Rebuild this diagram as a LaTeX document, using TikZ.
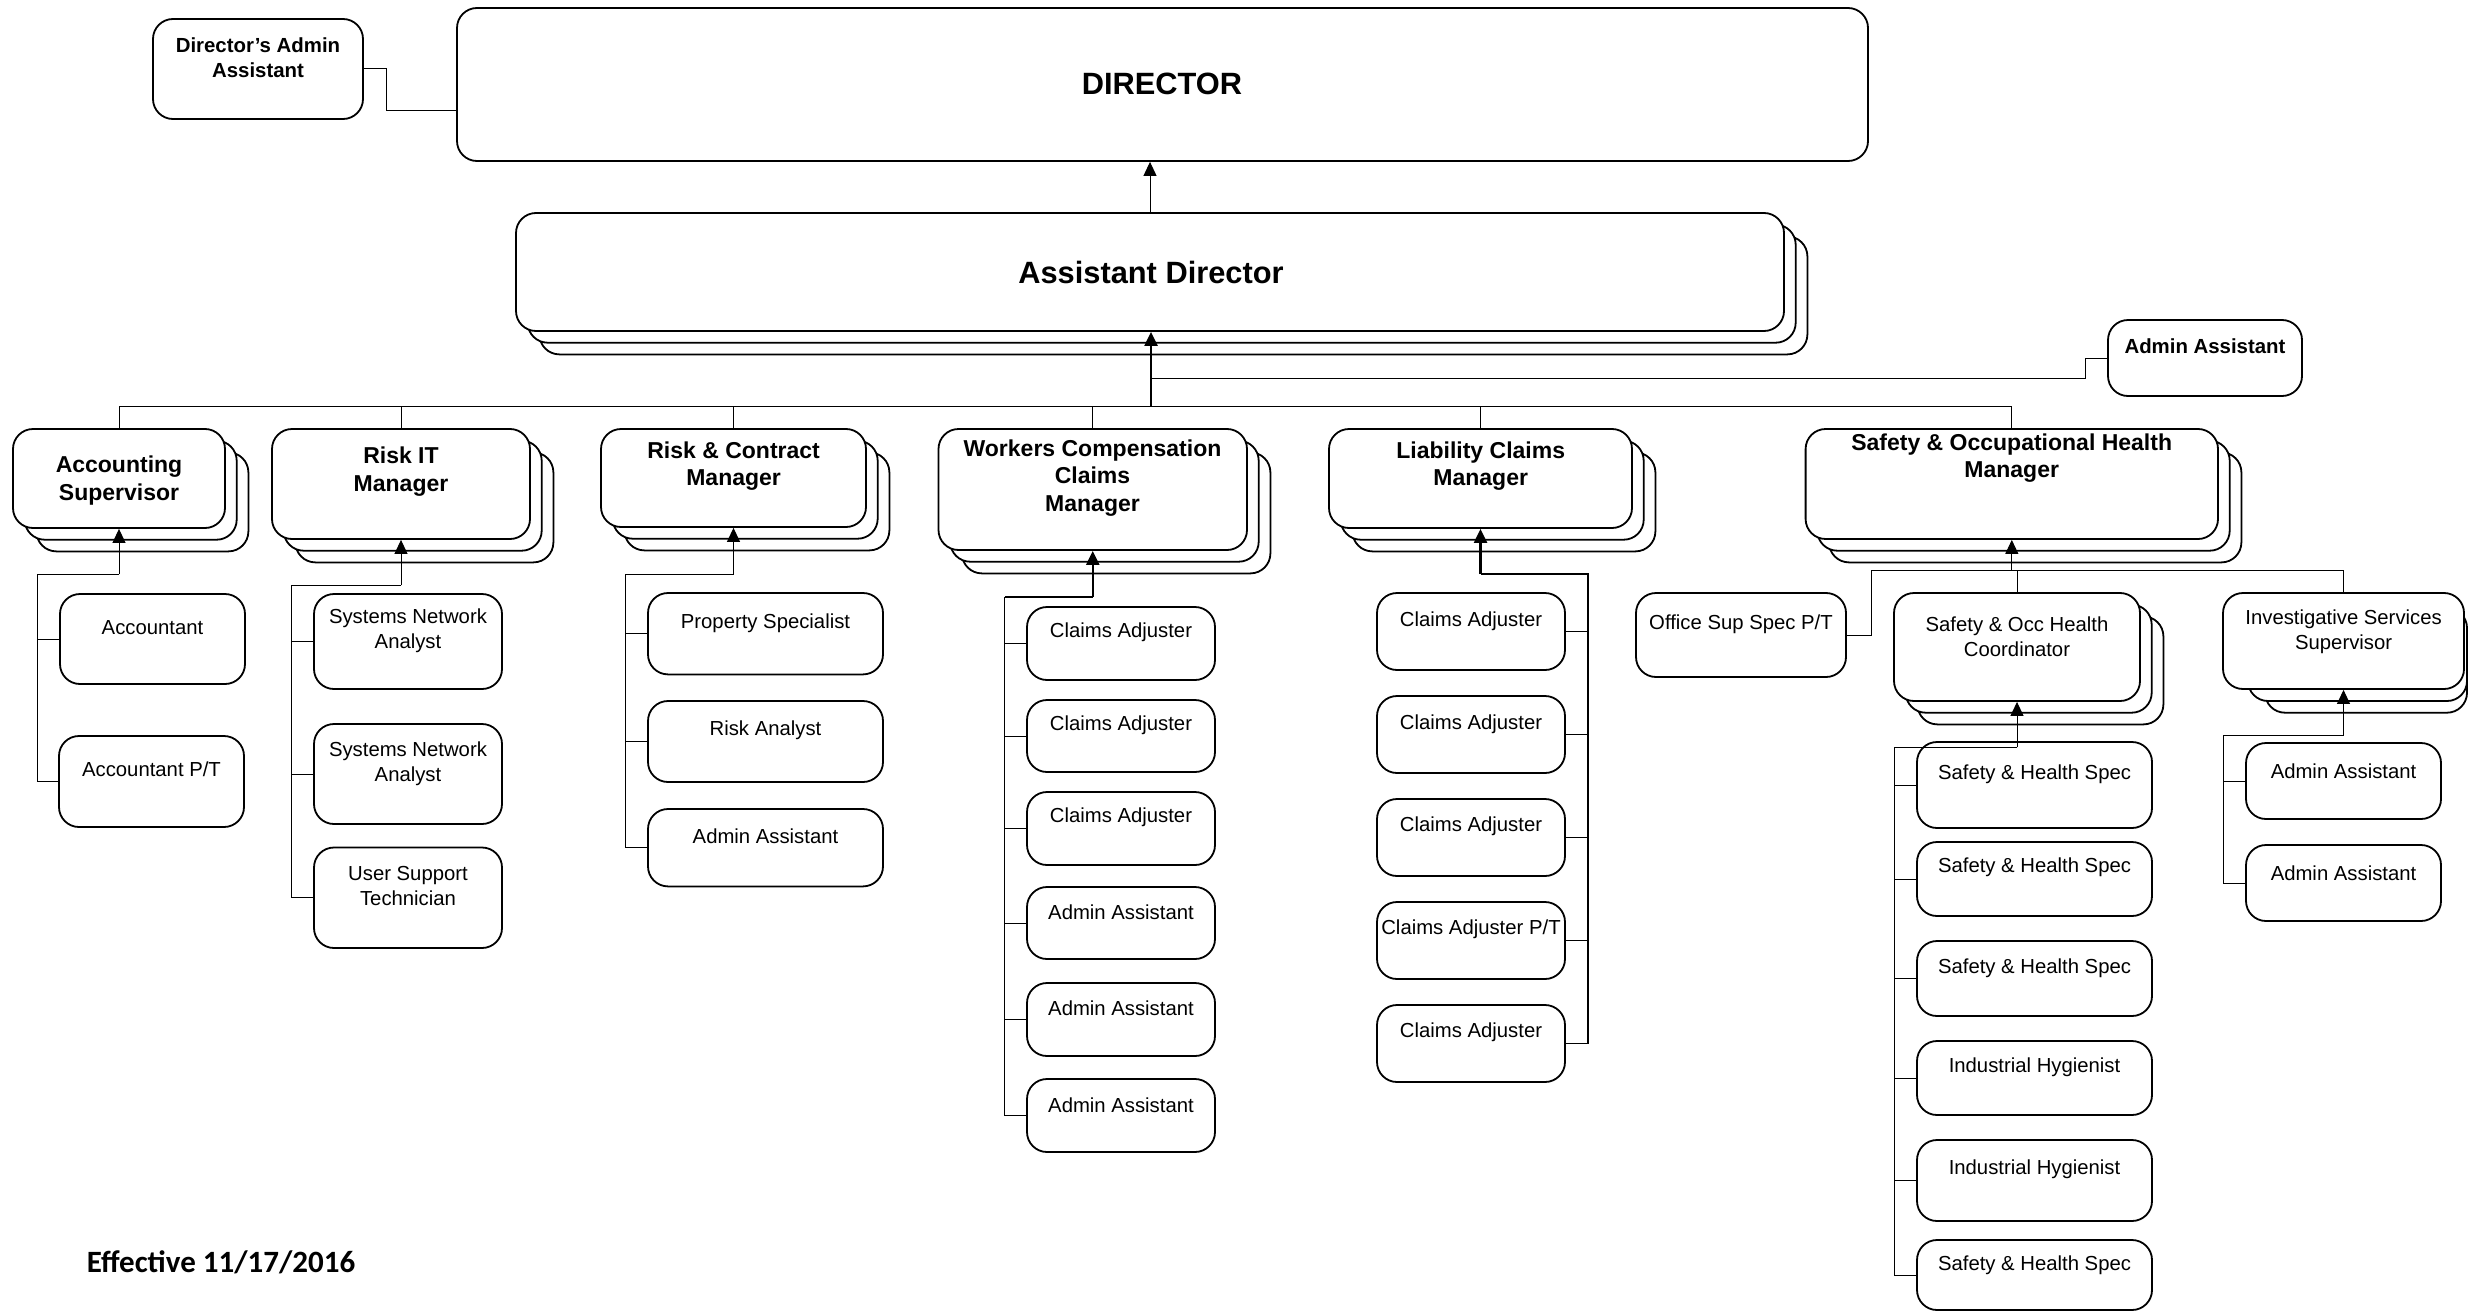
\documentclass[tikz,border=0pt]{standalone}
\usepackage{fontspec}
\setmainfont{Liberation Sans}
\newfontfamily\effont{Carlito}
\usetikzlibrary{arrows.meta,fit}
\newcommand\orgbx[5]{\node[box, fit={(#2,#3) (#4,#5)}] (#1) {};}
\newcommand\orgstk[5]{%
  \draw[box] ({#2+23.4},{#3+23.4}) rectangle ({#4+23.4},{#5+23.4});
  \draw[box] ({#2+11.7},{#3+11.7}) rectangle ({#4+11.7},{#5+11.7});
  \orgbx{#1}{#2}{#3}{#4}{#5}}
\begin{document}
\begin{tikzpicture}[x=1pt,y=-1pt,
  box/.style={draw, line width=1.8pt, rounded corners=20pt, fill=white, inner sep=0pt, rectangle},
  con/.style={line width=1pt},
  thk/.style={line width=2.2pt},
  arr/.style={-{Triangle[width=13pt,length=14pt]}},
  tt/.style={font=\fontsize{30.8}{36}\selectfont\bfseries, inner sep=0pt},
  tb/.style={font=\fontsize{23}{27.5}\selectfont\bfseries, align=center, inner sep=0pt, yshift=-2.5pt},
  ts/.style={font=\fontsize{20.4}{25}\selectfont\bfseries, align=center, inner sep=0pt, yshift=-1.5pt},
  tr/.style={font=\fontsize{20.3}{25}\selectfont, align=center, inner sep=0pt, yshift=-2pt},
]
\fill[white] (0,0) rectangle (2476,1311);
\useasboundingbox (0,0) rectangle (2476,1311);

% ---------- boxes ----------
\orgbx{dadm}{153}{19}{363}{119}
\orgbx{dir}{457}{8}{1868}{161}
\orgstk{ad}{516}{213}{1784}{331}
\orgbx{adm2}{2108}{320}{2302}{396}

\orgstk{acc}{13}{429}{225}{528}
\orgstk{rit}{272}{429}{530}{539}
\orgstk{rc}{601}{429}{866}{527}
\orgstk{wc}{938.5}{429}{1247}{550}
\orgstk{lc}{1329}{429}{1632}{528}
\orgstk{so}{1805.6}{429}{2218}{539}

\orgbx{acc1}{60}{594}{245}{684}
\orgbx{acc2}{59}{736}{244}{827}

\orgbx{rit1}{314}{594}{502}{689}
\orgbx{rit2}{314}{724}{502}{824}
\orgbx{rit3}{314}{847.5}{502}{948}

\orgbx{rc1}{648}{593}{883}{674.4}
\orgbx{rc2}{648}{701}{883}{782}
\orgbx{rc3}{648}{809}{883}{886.4}

\orgbx{wc1}{1027}{607}{1215}{680}
\orgbx{wc2}{1027}{700}{1215}{772}
\orgbx{wc3}{1027}{792}{1215}{865}
\orgbx{wc4}{1027}{887}{1215}{959}
\orgbx{wc5}{1027}{983}{1215}{1056}
\orgbx{wc6}{1027}{1079}{1215}{1152}

\orgbx{lc1}{1377}{593}{1565}{670}
\orgbx{lc2}{1377}{696}{1565}{773}
\orgbx{lc3}{1377}{799}{1565}{876}
\orgbx{lc4}{1377}{902}{1565}{979}
\orgbx{lc5}{1377}{1005}{1565}{1082}

\orgbx{osp}{1636}{593}{1846}{677}
\orgstk{soc}{1894}{593}{2140}{701}
\draw[box] (2265,620) rectangle (2467,712.7);
\draw[box] (2248,608) rectangle (2467,701);
\orgbx{isv}{2223}{593}{2464}{689}

\orgbx{s1}{1917}{742}{2152}{828}
\orgbx{s2}{1917}{842}{2152}{916}
\orgbx{s3}{1917}{941}{2152}{1016}
\orgbx{s4}{1917}{1041}{2152}{1115}
\orgbx{s5}{1917}{1140}{2152}{1221}
\orgbx{s6}{1917}{1240}{2152}{1310}

\orgbx{i1}{2246}{743}{2441}{819}
\orgbx{i2}{2246}{845}{2441}{921}

% ---------- connectors ----------
\coordinate (k1) at (386,111);
\draw[con] (dadm.east) -| (k1) -- (k1 -| dir.west);
\draw[con,arr] (ad.north) -- (ad.north |- dir.south);

\coordinate (bus) at (1151,406);
\draw[thk,arr] (bus) -- (bus |- ad.south);
\coordinate (k2) at (2085,378);
\draw[con] (bus |- k2) -- (k2) |- (adm2.west);
\draw[con] (bus -| acc.north) -- (bus -| so.north);
\foreach \n in {acc,rit,rc,wc,lc,so} \draw[con] (bus -| \n.north) -- (\n.north);

% accounting
\coordinate (ea) at (37,574);
\draw[con,arr] (ea -| acc.south) -- (acc.south);
\draw[con] (ea -| acc.south) -- (ea) |- (acc2.west);
\draw[con] (ea |- acc1.west) -- (acc1.west);

% risk IT
\coordinate (er) at (291,585.4);
\draw[con,arr] (er -| rit.south) -- (rit.south);
\draw[con] (er -| rit.south) -- (er) |- (rit3.west);
\foreach \n in {rit1,rit2} \draw[con] (er |- \n.west) -- (\n.west);

% risk & contract
\coordinate (ec) at (625,574);
\draw[con,arr] (ec -| rc.south) -- (rc.south);
\draw[con] (ec -| rc.south) -- (ec) |- (rc3.west);
\foreach \n in {rc1,rc2} \draw[con] (ec |- \n.west) -- (\n.west);

% workers comp
\coordinate (ew) at (1004.5,597);
\draw[thk,arr] (ew -| wc.south) -- (wc.south);
\draw[thk] (ew -| wc.south) -- (ew);
\draw[con] (ew) |- (wc6.west);
\foreach \n in {wc1,wc2,wc3,wc4,wc5} \draw[con] (ew |- \n.west) -- (\n.west);

% liability
\coordinate (el) at (1588,574);
\draw[thk,arr] (el -| lc.south) -- (lc.south);
\draw[thk] (el -| lc.south) -- (el) -- (el |- lc5.east);
\foreach \n in {lc1,lc2,lc3,lc4,lc5} \draw[con] (el |- \n.east) -- (\n.east);

% safety manager
\coordinate (k3) at (1871,570.3);
\draw[con,arr] (k3 -| so.south) -- (so.south);
\draw[con] (k3) -- (k3 -| isv.north);
\draw[con] (k3) |- (osp.east);
\draw[con] (k3 -| soc.north) -- (soc.north);
\draw[con] (k3 -| isv.north) -- (isv.north);

% safety coordinator
\coordinate (es) at (1894,747.3);
\draw[con,arr] (es -| soc.south) -- (soc.south);
\draw[con] (es -| soc.south) -- (es) |- (s6.west);
\foreach \n in {s1,s2,s3,s4,s5} \draw[con] (es |- \n.west) -- (\n.west);

% investigative
\coordinate (ei) at (2223.3,735.3);
\draw[con,arr] (ei -| isv.south) -- (isv.south);
\draw[con] (ei -| isv.south) -- (ei) |- (i2.west);
\draw[con] (ei |- i1.west) -- (i1.west);

% ---------- texts ----------
\node[ts] (dadm-t) at (258,56.5) {Director’s Admin\\Assistant};
\node[tt] (dir-t) at (1162,84) {DIRECTOR};
\node[tt] (ad-t) at (1151,272) {Assistant Director};
\node[ts] (adm2-t) at (2205,345) {Admin Assistant};

\node[tb] (acc-t) at (119,478) {Accounting\\Supervisor};
\node[tb] (rit-t) at (401,469) {Risk IT\\Manager};
\node[tb] (rc-t) at (733.6,463.5) {Risk \& Contract\\Manager};
\node[tb] (wc-t) at (1092.5,475.3) {Workers Compensation\\Claims\\Manager};
\node[tb] (lc-t) at (1480.7,463.4) {Liability Claims\\Manager};
\node[tb] (so-t) at (2011.7,455.7) {Safety \& Occupational Health\\Manager};

\node[tr] (acc1-t) at (152.5,626) {Accountant};
\node[tr] (acc2-t) at (151.5,767) {Accountant P/T};

\node[tr] (rit1-t) at (408,628.5) {Systems Network\\Analyst};
\node[tr] (rit2-t) at (408,761.5) {Systems Network\\Analyst};
\node[tr] (rit3-t) at (408,884.5) {User Support\\Technician};

\node[tr] (rc1-t) at (765.5,621) {Property Specialist};
\node[tr] (rc2-t) at (765.5,728) {Risk Analyst};
\node[tr] (rc3-t) at (765.5,834) {Admin Assistant};

\node[tr] (wc1-t) at (1121,630) {Claims Adjuster};
\node[tr] (wc2-t) at (1121,723) {Claims Adjuster};
\node[tr] (wc3-t) at (1121,815) {Claims Adjuster};
\node[tr] (wc4-t) at (1121,910) {Admin Assistant};
\node[tr] (wc5-t) at (1121,1006.5) {Admin Assistant};
\node[tr] (wc6-t) at (1121,1103) {Admin Assistant};

\node[tr] (lc1-t) at (1471,619) {Claims Adjuster};
\node[tr] (lc2-t) at (1471,722) {Claims Adjuster};
\node[tr] (lc3-t) at (1471,824) {Claims Adjuster};
\node[tr] (lc4-t) at (1471,927) {Claims Adjuster P/T};
\node[tr] (lc5-t) at (1471,1030) {Claims Adjuster};

\node[tr] (osp-t) at (1741,622) {Office Sup Spec P/T};
\node[tr] (soc-t) at (2017,634.5) {Safety \& Occ Health\\Coordinator};
\node[tr] (isv-t) at (2343.6,629.5) {Investigative Services\\Supervisor};

\node[tr] (s1-t) at (2034.5,772) {Safety \& Health Spec};
\node[tr] (s2-t) at (2034.5,865.6) {Safety \& Health Spec};
\node[tr] (s3-t) at (2034.5,966) {Safety \& Health Spec};
\node[tr] (s4-t) at (2034.5,1065) {Industrial Hygienist};
\node[tr] (s5-t) at (2034.5,1167) {Industrial Hygienist};
\node[tr] (s6-t) at (2034.5,1263.5) {Safety \& Health Spec};

\node[tr] (i1-t) at (2343.5,769) {Admin Assistant};
\node[tr] (i2-t) at (2343.5,871) {Admin Assistant};

\node[font={\effont\fontsize{31}{37}\selectfont\bfseries}, inner sep=0pt] (eff) at (221,1262) {Effective 11/17/2016};
\end{tikzpicture}
\end{document}
